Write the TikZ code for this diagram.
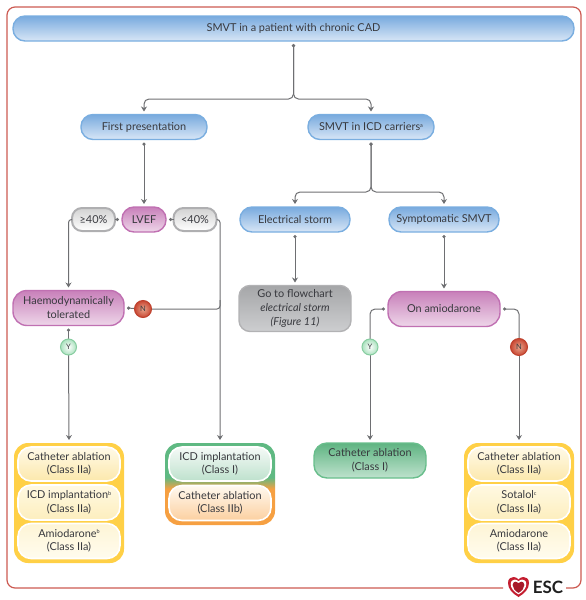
\documentclass[tikz,border=0pt]{standalone}
\usepackage{fontspec}
\setmainfont{Lato}
\usetikzlibrary{arrows.meta}
\definecolor{ink}{HTML}{38393E}
\definecolor{conncol}{HTML}{6E6F72}
\definecolor{framecol}{HTML}{CC5A52}
\definecolor{gmgreen}{RGB}{95,185,130}
\definecolor{gmorange}{RGB}{246,160,66}
\definecolor{hred}{RGB}{196,30,48}
\pgfdeclareverticalshading{gmmix}{100bp}{color(0bp)=(gmorange); color(47bp)=(gmorange); color(54bp)=(gmgreen); color(100bp)=(gmgreen)}
\newcommand{\supmark}[1]{\raisebox{3.6pt}{\fontsize{5.5}{6}\selectfont #1}}
\newcommand{\heartshape}{(0,10) .. controls (-6,6.5) and (-10.5,2) .. (-10.5,-4) .. controls (-10.5,-8.5) and (-7.5,-10) .. (-5,-10) .. controls (-3,-10) and (-1,-9) .. (0,-7.5) .. controls (1,-9) and (3,-10) .. (5,-10) .. controls (7.5,-10) and (10.5,-8.5) .. (10.5,-4) .. controls (10.5,2) and (6,6.5) .. (0,10) -- cycle}
\tikzset{
  x=1pt,y=-1pt,
  box/.style={draw,line width=1.4pt,inner sep=0pt,outer sep=3pt,align=center,text=ink,font=\fontsize{10.9}{14}\selectfont},
  bluebox/.style={box,draw={rgb,255:red,122;green,174;blue,224},top color={rgb,255:red,120;green,170;blue,222},bottom color={rgb,255:red,216;green,230;blue,246}},
  purplebox/.style={box,draw={rgb,255:red,192;green,112;blue,178},top color={rgb,255:red,200;green,128;blue,186},bottom color={rgb,255:red,238;green,214;blue,233}},
  greybox/.style={box,draw={rgb,255:red,178;green,178;blue,180},top color={rgb,255:red,165;green,166;blue,168},bottom color={rgb,255:red,205;green,206;blue,208},rounded corners=11pt},
  pct/.style={box,outer sep=0pt,line width=2pt,draw={rgb,255:red,175;green,175;blue,177},top color={rgb,255:red,210;green,210;blue,210},bottom color=white,rounded corners=10pt,minimum width=43pt,minimum height=23pt},
  pill/.style={rounded corners=12pt},
  greenbox/.style={box,draw={rgb,255:red,105;green,190;blue,140},top color={rgb,255:red,95;green,180;blue,130},bottom color={rgb,255:red,190;green,226;blue,205},rounded corners=13pt},
  casing/.style={line width=0pt,draw=none,inner sep=0pt,outer sep=3pt,rounded corners=14pt},
  subbox/.style={box,outer sep=0pt,draw=white,line width=1.6pt,rounded corners=13pt,minimum width=102pt,minimum height=34pt,font=\fontsize{10.9}{13.5}\selectfont},
  yellowsub/.style={subbox,top color={rgb,255:red,255;green,250;blue,232},bottom color={rgb,255:red,252;green,232;blue,172}},
  yellowsubb/.style={subbox,top color={rgb,255:red,255;green,249;blue,226},bottom color={rgb,255:red,253;green,238;blue,190}},
  yellowsubc/.style={subbox,top color={rgb,255:red,254;green,245;blue,214},bottom color={rgb,255:red,255;green,252;blue,238}},
  greensub/.style={subbox,top color={rgb,255:red,245;green,250;blue,247},bottom color={rgb,255:red,190;green,225;blue,205}},
  orangesub/.style={subbox,top color={rgb,255:red,255;green,249;blue,240},bottom color={rgb,255:red,252;green,208;blue,160}},
  badge/.style={circle,inner sep=0pt,outer sep=0pt,minimum size=16pt,font=\fontsize{7.5}{8}\selectfont,text=ink},
  yes/.style={badge,draw={rgb,255:red,135;green,205;blue,160},line width=1pt,inner color=white,outer color={rgb,255:red,170;green,225;blue,190}},
  no/.style={badge,draw={rgb,255:red,190;green,65;blue,45},line width=1pt,inner color={rgb,255:red,232;green,165;blue,140},outer color={rgb,255:red,200;green,70;blue,50}},
  conn/.style={draw=conncol,line width=1pt,rounded corners=5pt},
  flow/.style={conn,{Circle[length=3.2pt,width=3.2pt]}-{Stealth[length=5pt,width=6pt]}},
  flowend/.style={conn,-{Stealth[length=5pt,width=6pt]}},
  dotend/.style={conn,-{Circle[length=3.2pt,width=3.2pt]}},
  dotstart/.style={conn,{Circle[length=3.2pt,width=3.2pt]}-},
}
\begin{document}
\begin{tikzpicture}
\useasboundingbox (0,0) rectangle (586,600);
% outer frame
\draw[draw=framecol,line width=1.2pt,rounded corners=8pt] (503,588) -- (7,588) -- (7,7) -- (581,7) -- (581,588) -- (566,588);

% connectors' anchors need the nodes first
\node[bluebox,pill,minimum width=561pt,minimum height=25pt] (top) at (293.5,28.5) {SMVT in a patient with chronic CAD};
\node[bluebox,pill,minimum width=126pt,minimum height=25pt] (first) at (144,127) {First presentation};
\node[bluebox,pill,minimum width=126pt,minimum height=25pt] (icd) at (371,127) {SMVT in ICD carriers\supmark{a}};
\node[purplebox,pill,minimum width=44pt,minimum height=25pt] (lvef) at (144,219.5) {LVEF};
\node[pct] (ge) at (93.5,219.5) {≥40\%};
\node[pct] (lt) at (195,219.5) {<40\%};
\node[bluebox,pill,minimum width=110pt,minimum height=25pt] (storm) at (295,219.5) {Electrical storm};
\node[bluebox,pill,minimum width=110pt,minimum height=25pt] (symp) at (444,219.5) {Symptomatic SMVT};
\node[greybox,minimum width=112pt,minimum height=46pt] (goto) at (295,308.5) {Go to flowchart\\\textit{electrical storm}\\\textit{(Figure 11)}};
\node[purplebox,rounded corners=14pt,minimum width=112pt,minimum height=35pt] (amio) at (444,309) {On amiodarone};
\node[purplebox,rounded corners=14pt,minimum width=111pt,minimum height=35pt] (haemo) at (68.5,308) {Haemodynamically\\tolerated};

% left yellow group
\node[casing,fill={rgb,255:red,255;green,208;blue,70},minimum width=110pt,minimum height=120pt] (gl) at (69,503) {};
\node[yellowsub] (gl1) at (69,464) {Catheter ablation\\(Class IIa)};
\node[yellowsubb,minimum height=35pt] (gl2) at (69,502.5) {ICD implantation\supmark{b}\\(Class IIa)};
\node[yellowsubc,minimum height=35pt] (gl3) at (69,541) {Amiodarone\supmark{b}\\(Class IIa)};

% green and orange group
\node[casing,shading=gmmix,minimum width=110pt,minimum height=82pt] (gm) at (220,484) {};
\node[greensub] (gm1) at (220,464) {ICD implantation\\(Class I)};
\node[orangesub,minimum height=35pt] (gm2) at (220,503) {Catheter ablation\\(Class IIb)};

% catheter ablation class I
\node[greenbox,minimum width=112pt,minimum height=35pt] (cath) at (370,460.5) {Catheter ablation\\(Class I)};

% right yellow group
\node[casing,fill={rgb,255:red,255;green,208;blue,70},minimum width=110pt,minimum height=120pt] (gr) at (519,503) {};
\node[yellowsub] (gr1) at (519,464) {Catheter ablation\\(Class IIa)};
\node[yellowsubb,minimum height=35pt] (gr2) at (519,502.5) {Sotalol\supmark{c}\\(Class IIa)};
\node[yellowsubc,minimum height=35pt] (gr3) at (519,541) {Amiodarone\\(Class IIa)};

% connectors
\coordinate (j1) at (293.5,99);
\draw[flow] (top.south) -- (j1) -- (j1 -| first.north) -- (first.north);
\draw[flow] (top.south) -- (j1) -- (j1 -| icd.north) -- (icd.north);
\draw[flow] (first.south) -- (lvef.north);
\coordinate (j3) at (371,192);
\draw[flow] (icd.south) -- (j3) -- (j3 -| storm.north) -- (storm.north);
\draw[flow] (icd.south) -- (j3) -- (j3 -| symp.north) -- (symp.north);
\draw[flow] (storm.south) -- (goto.north);
\draw[flow] (symp.south) -- (amio.north);
\draw[dotstart] (lvef.west) -- (ge.east);
\draw[dotstart] (lvef.east) -- (lt.west);
\draw[flowend,rounded corners=3pt] (ge.west) -- (ge.west -| haemo.north) -- (haemo.north);
\draw[flowend,rounded corners=3pt] (lt.east) -- (lt.east -| gm.north) -- (gm.north);

% decision badges
\coordinate (nlc) at (143,309);
\coordinate (ylc) at (68.5,347);
\coordinate (yrc) at (370,347);
\coordinate (nrc) at (519,347);
\coordinate (j4) at (220,300);
\draw[conn,rounded corners=3pt] (j4) -- (j4 |- nlc) -- (nlc);
\draw[dotend] (nlc) -- (haemo.east);
\draw[dotend] (ylc) -- (haemo.south);
\draw[flowend] (ylc) -- (gl.north);
\draw[dotend] (yrc) -- (yrc |- amio) -- (amio.west);
\draw[dotend] (nrc) -- (nrc |- amio) -- (amio.east);
\draw[flowend] (yrc) -- (cath.north);
\draw[flowend] (nrc) -- (gr.north);
\node[no,minimum size=17pt] (nl) at (nlc) {N};
\node[yes] (yl) at (ylc) {Y};
\node[yes] (yr) at (yrc) {Y};
\node[no,minimum size=17pt] (nr) at (nrc) {N};

% ESC logo
\begin{scope}[shift={(518.5,587)}]
\fill[hred] \heartshape;
\begin{scope}[scale=0.74]\fill[white] \heartshape;\end{scope}
\begin{scope}[scale=0.56,shift={(0,0.5)}]\fill[hred!85!black] \heartshape;\end{scope}
\end{scope}
\node[inner sep=0pt,text=black!88,font=\fontsize{17}{18}\selectfont\bfseries] (esc) at (548,587.5) {ESC};
\end{tikzpicture}
\end{document}
